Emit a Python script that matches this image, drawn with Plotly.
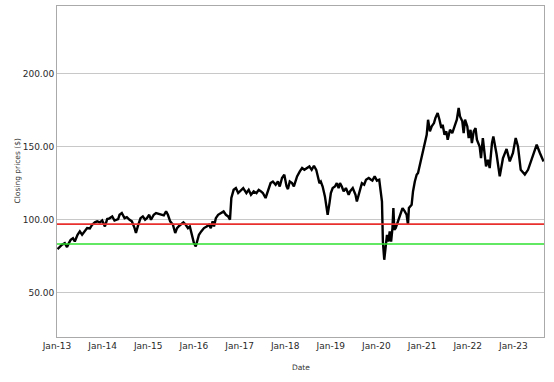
import numpy as np
import pandas as pd
import plotly.graph_objects as go

# Time of each reading, in years elapsed since 2013-01-01
years_elapsed = [
    0.01, 0.06, 0.11, 0.17, 0.22, 0.26, 0.30, 0.35, 0.39, 0.45, 0.50, 0.55, 0.61, 0.66, 0.72, 0.77,
    0.83, 0.88, 0.94, 0.99, 1.05, 1.10, 1.15, 1.21, 1.26, 1.34,
    1.37, 1.42, 1.48, 1.53, 1.59, 1.64, 1.70, 1.73, 1.77, 1.83, 1.88, 1.93, 1.97, 2.02, 2.06, 2.12,
    2.17, 2.22, 2.28, 2.34, 2.39, 2.43, 2.48, 2.54, 2.59, 2.63, 2.68,
    2.71, 2.77, 2.82, 2.87, 2.91, 2.97, 3.00, 3.04, 3.08, 3.11, 3.16, 3.22, 3.28, 3.33, 3.37, 3.41,
    3.44, 3.48, 3.53, 3.59, 3.65, 3.70, 3.75, 3.79, 3.82, 3.87, 3.92, 3.97, 4.03, 4.08,
    4.15, 4.20, 4.25, 4.31, 4.37, 4.42, 4.47, 4.51, 4.57, 4.62, 4.68, 4.73, 4.79, 4.84, 4.88, 4.93,
    4.98, 5.03, 5.06, 5.10, 5.15, 5.19, 5.22, 5.26, 5.32, 5.37, 5.42, 5.48,
    5.53, 5.58, 5.63, 5.68, 5.71, 5.75, 5.78, 5.82, 5.87, 5.91, 5.93, 5.97, 6.00, 6.04, 6.09, 6.13,
    6.17, 6.20, 6.24, 6.28, 6.33, 6.39, 6.42, 6.48, 6.54, 6.57, 6.61, 6.65, 6.68, 6.73, 6.77, 6.83, 6.88,
    6.91, 6.96, 7.01, 7.06, 7.09, 7.12, 7.13, 7.14, 7.17, 7.20, 7.23, 7.26, 7.29, 7.32, 7.35, 7.37,
    7.39, 7.42, 7.47, 7.51, 7.57, 7.62, 7.66, 7.69, 7.71, 7.77, 7.80, 7.84, 7.88, 7.91, 7.95, 7.99,
    8.02, 8.06, 8.10, 8.13, 8.17, 8.21, 8.26,
    8.29, 8.34, 8.38, 8.42, 8.45, 8.49, 8.53, 8.56, 8.61, 8.66, 8.71, 8.76, 8.80, 8.83, 8.88, 8.91,
    8.94, 8.99, 9.02, 9.06, 9.09, 9.13, 9.17, 9.20, 9.26, 9.29, 9.33, 9.37, 9.40, 9.44, 9.48, 9.53,
    9.56, 9.63, 9.70, 9.77, 9.85, 9.92, 9.99, 10.05, 10.10, 10.16, 10.25, 10.32, 10.40, 10.51, 10.58, 10.66,
]

closing_prices = [
    79.9, 81.7, 82.9, 84.0, 81.3, 84.0, 86.3, 87.4, 85.1, 89.7, 92.0, 89.7, 92.0, 94.3, 94.0, 96.6,
    98.2, 98.9, 98.2, 99.5, 95.4, 100.5, 101.0, 102.3, 99.5, 100.5,
    103.4, 104.6, 101.1, 101.8, 100.0, 98.9, 94.3, 90.9, 95.4, 101.1, 102.3, 100.0, 101.1, 103.4, 100.0, 103.4,
    104.6, 104.2, 103.4, 103.0, 105.7, 103.4, 98.9, 96.6, 90.9, 94.3, 95.9,
    96.6, 98.2, 96.6, 94.3, 95.4, 88.6, 84.0, 81.7, 86.3, 89.7, 92.0, 94.3, 95.4, 96.6, 94.3, 98.9,
    95.4, 101.1, 103.4, 104.6, 105.7, 103.4, 102.3, 100.0, 114.9, 120.5, 121.7, 118.3, 120.5, 121.7,
    118.3, 120.5, 117.1, 119.4, 118.3, 120.5, 119.4, 118.3, 114.9, 119.4, 125.1, 126.2, 124.0, 126.2, 122.8, 128.6,
    130.8, 122.8, 121.0, 126.2, 125.1, 122.8, 126.2, 129.7, 133.1, 135.4, 134.2, 135.4,
    136.5, 134.2, 137.0, 134.2, 130.8, 125.1, 126.2, 122.8, 116.0, 109.1, 103.4, 111.4, 118.3, 121.7, 122.8, 125.1,
    121.7, 125.1, 122.8, 119.4, 121.7, 117.1, 119.4, 121.7, 117.1, 112.5, 118.3, 121.7, 125.1, 124.0, 127.4, 128.6, 127.4,
    126.8, 129.7, 126.8, 127.4, 120.5, 112.5, 98.9, 85.1, 72.6, 82.9, 89.7, 85.1, 92.0, 85.1, 94.3, 108.0,
    93.1, 94.3, 98.9, 101.1, 108.0, 105.7, 103.4, 96.6, 108.0, 110.3, 119.4, 126.2, 130.8, 132.0, 137.7, 143.4,
    145.7, 152.5, 158.2, 168.5, 160.5, 164.0, 166.2,
    169.6, 173.1, 168.5, 162.8, 165.1, 158.2, 160.5, 154.8, 161.6, 159.4, 163.9, 168.5, 176.5, 170.8, 167.4, 159.4,
    168.5, 163.9, 156.0, 161.6, 152.5, 160.5, 162.8, 154.8, 150.2, 142.2, 155.9, 145.6, 136.5, 141.1, 135.4, 152.5,
    157.0, 145.0, 129.7, 142.0, 148.5, 140.0, 145.7, 156.0, 150.2, 134.2, 131.0, 134.2, 141.1, 151.4, 145.7, 139.9,
]

red_level = 97.0
green_level = 83.4

start = pd.Timestamp("2013-01-01")
dates = start + pd.to_timedelta(np.array(years_elapsed) * 365.25, unit="D")
end_date = start + pd.to_timedelta(10.67 * 365.25, unit="D")

fig = go.Figure()
fig.add_trace(go.Scatter(
    x=dates, y=closing_prices, mode="lines",
    line=dict(color="black", width=2.4), showlegend=False,
))
fig.add_hline(y=red_level, line=dict(color="#e8302f", width=1.6), layer="above")
fig.add_hline(y=green_level, line=dict(color="#2fe02f", width=1.6), layer="above")

tick_font = dict(family="DejaVu Sans", size=9, color="#2a2a2a")
title_font = dict(family="DejaVu Sans", size=7.5, color="#333333")
fig.update_layout(
    width=554, height=382,
    margin=dict(l=57, r=10, t=6, b=45),
    paper_bgcolor="white", plot_bgcolor="white",
    showlegend=False,
    xaxis=dict(
        range=[start, end_date], type="date", automargin=False,
        tick0="2013-01-01", dtick="M12", tickformat="%b-%y",
        showgrid=False, zeroline=False,
        showline=True, mirror=True, linecolor="#aaaaaa", linewidth=1,
        ticks="", tickfont=tick_font,
    ),
    yaxis=dict(
        range=[19.7, 246.4], tick0=0, dtick=50, tickformat=".2f", automargin=False,
        showgrid=True, gridcolor="#c8c8c8", gridwidth=1, zeroline=False,
        showline=True, mirror=True, linecolor="#aaaaaa", linewidth=1,
        ticks="", tickfont=tick_font,
    ),
    annotations=[
        dict(text="Date", xref="paper", yref="paper", x=0.5, y=0, yshift=-30,
             xanchor="center", yanchor="middle", showarrow=False, font=title_font),
        dict(text="Closing prices ($)", xref="paper", yref="paper", x=0, y=0.5,
             xshift=-40, textangle=-90, xanchor="center", yanchor="middle",
             showarrow=False, font=title_font),
    ],
)

fig.write_html("out.html", config={"displayModeBar": False},
               post_script="document.body.style.margin='0';")
